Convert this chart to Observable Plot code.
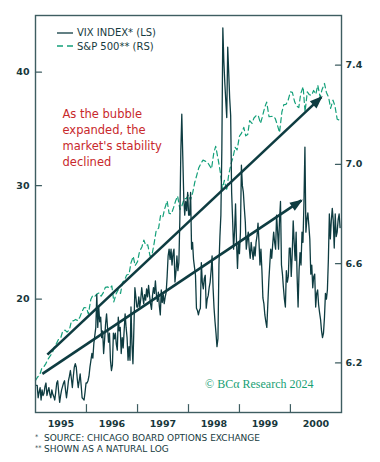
<!DOCTYPE html>
<html><head><meta charset="utf-8">
<script src="https://cdn.jsdelivr.net/npm/d3@7"></script>
<script src="https://cdn.jsdelivr.net/npm/@observablehq/plot@0.6"></script>
<style>
body{margin:0;background:#fff;font-family:"DejaVu Sans",sans-serif;}
#wrap{position:relative;width:380px;height:462px;overflow:hidden;}
#legend{position:absolute;left:57px;top:26px;font-size:10px;color:#163a3e;}
#legend .row{display:flex;align-items:center;height:13.5px;}
#legend svg{margin-right:4px;}
#notes{position:absolute;left:35px;top:433px;font-size:9px;line-height:11px;color:#163a3e;}
#notes .m{display:inline-block;width:9px;font-size:6.5px;vertical-align:top;line-height:9px;}
</style></head><body>
<div id="wrap"><div id="chart"></div><div id="legend"></div><div id="notes"></div></div>
<script>
// VIX index, weekly (left scale)
const vix1995 = [12.4,12.4,11.3,11.8,12.2,11.1,12.0,11.5,11.7,12.3,12.6,11.5,11.9,12.2,11.6,11.3,12.0,11.6,11.4,11.1,11.8,12.6,12.8,11.8,10.9,11.5,12.0,12.3,12.6,12.8,12.0,11.3,12.0,12.8,13.2,13.7,13.0,12.2,13.2,14.0,14.3,14.0,13.0,12.2,12.8,13.4,12.4,11.3,11.2,11.1,11.8,12.6];
const vix1996 = [12.6,12.8,13.2,14.0,14.6,15.2,14.8,16.1,16.8,17.5,20.4,17.5,19.3,18.0,18.4,16.6,17.2,15.2,16.4,17.8,18.7,17.5,16.2,17.0,14.6,13.7,14.2,17.0,16.5,17.0,16.0,15.5,18.4,17.2,17.5,15.2,16.6,15.7,17.2,18.7,17.5,16.6,14.6,15.8,14.6,19.3,16.0,14.3,17.5,21.0,20.2,19.3];
const vix1997 = [19.3,20.2,19.3,20.0,21.0,20.2,19.6,20.4,19.9,20.9,20.2,21.2,20.3,19.6,19.1,20.3,21.0,20.5,21.6,20.4,19.8,20.6,19.4,18.6,20.8,19.7,20.4,19.6,20.2,20.6,22.0,23.8,24.4,23.5,24.4,23.0,24.0,24.4,21.5,22.4,23.8,22.5,23.2,27.0,33.0,36.3,32.6,29.0,27.4,28.6,27.8,29.4];
const vix1998 = [27.4,27.4,29.4,24.4,25.0,23.5,22.8,22.1,19.2,19.0,18.6,19.0,19.2,23.2,21.5,20.9,21.8,22.1,19.2,20.0,20.3,21.0,21.5,22.5,23.8,21.0,19.2,18.0,17.0,15.8,16.5,23.0,25.5,27.4,33.3,43.9,41.0,39.1,37.5,36.0,42.2,40.0,37.7,36.2,29.4,27.0,24.4,26.0,28.4,25.0,22.7,25.0];
const vix1999 = [24.0,25.9,31.8,30.0,29.4,28.0,26.8,24.4,25.2,25.9,24.5,23.6,25.0,24.2,23.5,24.6,23.8,25.0,25.6,26.7,25.0,23.0,24.4,22.5,20.1,19.6,18.6,18.0,17.5,19.5,21.5,23.0,24.4,23.6,24.8,25.9,25.0,24.4,27.4,26.0,24.4,27.0,28.6,23.0,22.2,21.0,20.0,19.3,22.5,21.5,22.0,24.5];
const vix2000 = [24.5,22.0,24.0,26.9,25.0,23.4,25.9,22.0,19.3,22.5,24.1,23.0,25.9,25.0,28.5,33.4,25.9,27.0,27.6,26.5,25.3,22.2,23.0,21.0,22.0,22.2,19.3,20.5,20.8,19.5,18.8,18.2,17.2,16.6,17.0,18.4,20.5,20.0,20.8,23.5,27.5,25.3,26.9,28.0,26.9,24.5,27.5,25.5,25.9,27.0,27.5,26.3];

// S&P 500 natural log, 1st and 15th of each month (right scale)
const spx1995 = [6.129,6.142,6.153,6.178,6.184,6.196,6.215,6.227,6.240,6.263,6.279,6.295,6.301,6.328,6.332,6.324,6.333,6.368,6.370,6.375,6.370,6.385,6.408,6.423];
const spx1996 = [6.422,6.397,6.455,6.472,6.468,6.477,6.482,6.469,6.483,6.504,6.506,6.501,6.510,6.446,6.479,6.495,6.480,6.524,6.534,6.554,6.557,6.603,6.629,6.592];
const spx1997 = [6.608,6.649,6.667,6.695,6.673,6.676,6.629,6.637,6.686,6.735,6.743,6.795,6.788,6.822,6.853,6.802,6.801,6.824,6.853,6.872,6.818,6.833,6.862,6.862];
const spx1998 = [6.877,6.856,6.888,6.928,6.956,6.985,7.005,7.017,7.013,7.010,6.995,6.982,7.046,7.073,7.021,6.975,6.902,6.936,6.894,6.954,7.001,7.026,7.069,7.058];
const spx1999 = [7.114,7.125,7.149,7.115,7.120,7.176,7.165,7.187,7.197,7.198,7.165,7.194,7.230,7.251,7.192,7.193,7.194,7.184,7.156,7.128,7.211,7.241,7.242,7.257];
const spx2000 = [7.292,7.290,7.251,7.235,7.229,7.285,7.313,7.212,7.292,7.281,7.278,7.298,7.283,7.319,7.271,7.302,7.326,7.290,7.270,7.226,7.259,7.236,7.182,7.179];

const yearLabels = ["1995","1996","1997","1998","1999","2000"];
const leftTicks = [20, 30, 40];
const rightTicks = [6.2, 6.6, 7.0, 7.4];
const leftDomain = [10, 45];
const rightDomain = [6.0, 7.6];
const seriesNames = ["VIX INDEX* (LS)", "S&P 500** (RS)"];
const annotation = "As the bubble\nexpanded, the\nmarket's stability\ndeclined";
const credit = "© BCα Research 2024";
const footnotes = [["*", "SOURCE: CHICAGO BOARD OPTIONS EXCHANGE"], ["**", "SHOWN AS A NATURAL LOG"]];
// trend arrows (dates, VIX-scale values)
const arrowsRaw = [
  {x1: "1995-03-27", y1: 15.1, x2: "2000-08-10", y2: 37.8},
  {x1: "1995-02-19", y1: 13.4, x2: "2000-03-20", y2: 28.7}
];

const vixColor = "#0e3c41", spxColor = "#14a07a", frameColor = "#3e5d61",
      textColor = "#18383c", red = "#c8282c", green = "#17a074";

const vixAll = [...vix1995, ...vix1996, ...vix1997, ...vix1998, ...vix1999, ...vix2000];
const vixData = vixAll.map((v, i) => ({date: new Date(Date.UTC(1995, 0, 6 + 7 * i)), v}));
const spxAll = [...spx1995, ...spx1996, ...spx1997, ...spx1998, ...spx1999, ...spx2000];
const spxData = spxAll.map((v, i) => ({date: new Date(Date.UTC(1995 + Math.floor(i / 24), Math.floor((i % 24) / 2), i % 2 ? 15 : 1)), v}));
const s2v = d3.scaleLinear(rightDomain, leftDomain);
const arrows = arrowsRaw.map(d => ({...d, x1: new Date(d.x1), x2: new Date(d.x2)}));
const yearStarts = yearLabels.slice(1).concat(["2001"]).map(y => new Date(Date.UTC(+y, 0, 1)));
const yearMids = yearLabels.map(y => new Date(Date.UTC(+y, 6, 2)));

const tickShape = {draw(context, l) { context.moveTo(0, 0); context.lineTo(0, -l); }};

const chart = Plot.plot({
  width: 380, height: 432,
  marginLeft: 35, marginRight: 39, marginTop: 15, marginBottom: 20,
  style: {fontFamily: "DejaVu Sans", background: "white", color: textColor},
  x: {type: "utc", domain: [new Date(Date.UTC(1995, 0, 1)), new Date(Date.UTC(2001, 0, 1))]},
  y: {domain: leftDomain, label: null},
  marks: [
    Plot.line(spxData, {x: "date", y: d => s2v(d.v), stroke: spxColor, strokeWidth: 1.2, strokeDasharray: "5,3.5"}),
    Plot.line(vixData, {x: "date", y: "v", stroke: vixColor, strokeWidth: 1.3}),
    Plot.link(arrows, {x1: "x1", y1: "y1", x2: "x2", y2: "y2", stroke: vixColor, strokeWidth: 2.6, markerEnd: "arrow"}),
    Plot.text([annotation], {text: d => d, frameAnchor: "top-left", dx: 27, dy: 91, textAnchor: "start", lineAnchor: "top", lineHeight: 1.4, fontSize: 11.5, fill: red}),
    Plot.text([credit], {text: d => d, frameAnchor: "bottom-right", dx: -28, dy: -25, textAnchor: "end", fontFamily: "Liberation Serif", fontSize: 12, fill: green}),
    Plot.frame({stroke: frameColor, strokeWidth: 1.4}),
    Plot.vector(yearStarts.slice(0, 5), {x: d => d, frameAnchor: "bottom", length: 8, rotate: 0, anchor: "start", shape: tickShape, stroke: frameColor, strokeWidth: 1.2}),
    Plot.vector(leftTicks, {y: d => d, frameAnchor: "left", length: 6, rotate: 90, anchor: "start", shape: tickShape, stroke: frameColor, strokeWidth: 1.2}),
    Plot.vector(rightTicks, {y: d => s2v(d), frameAnchor: "right", length: 6, rotate: -90, anchor: "start", shape: tickShape, stroke: frameColor, strokeWidth: 1.2}),
    Plot.axisX(yearMids, {anchor: "bottom", tickSize: 0, tickPadding: 8, tickFormat: d => yearLabels[d.getUTCFullYear() - 1995], fontSize: 9.5, fontWeight: "bold", fill: textColor}),
    Plot.axisY(leftTicks, {anchor: "left", tickSize: 0, tickPadding: 6, fontSize: 9.5, fontWeight: "bold", fill: textColor}),
    Plot.axisY(rightTicks.map(s2v), {anchor: "right", tickSize: 0, tickPadding: 4, tickFormat: d => s2v.invert(d).toFixed(1), fontSize: 9.5, fontWeight: "bold", fill: textColor})
  ]
});

d3.select(chart).selectAll("marker")
  .attr("overflow", "visible").attr("fill", vixColor).attr("stroke", "none")
  .select("path").attr("d", "M-6.5,-2.8L1,0L-6.5,2.8Z");

document.getElementById("chart").appendChild(chart);

const legend = d3.select("#legend");
seriesNames.forEach((name, i) => {
  const row = legend.append("div").attr("class", "row");
  const s = row.append("svg").attr("width", 16).attr("height", 8);
  s.append("line").attr("x1", 0).attr("x2", 16).attr("y1", 4).attr("y2", 4)
    .attr("stroke", i === 0 ? vixColor : spxColor).attr("stroke-width", 1.3)
    .attr("stroke-dasharray", i === 0 ? null : "6,4");
  row.append("span").text(name);
});

const notes = d3.select("#notes");
footnotes.forEach(([m, t]) => {
  const r = notes.append("div");
  r.append("span").attr("class", "m").text(m);
  r.append("span").text(t);
});
</script>
</body></html>
